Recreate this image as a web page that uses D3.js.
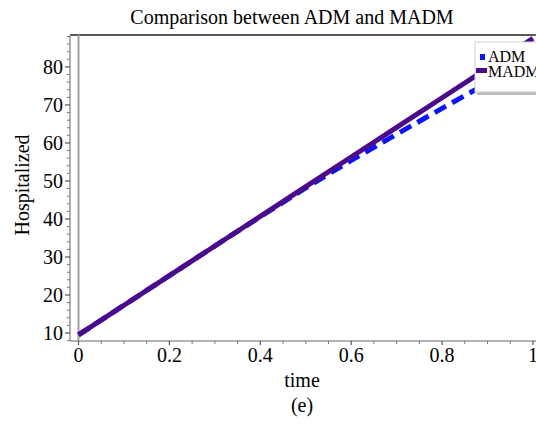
<!DOCTYPE html>
<html>
<head>
<meta charset="utf-8">
<script src="https://cdn.jsdelivr.net/npm/d3@7"></script>
<style>
  html, body { margin: 0; padding: 0; background: #fff; }
  svg { display: block; font-family: "Liberation Serif", "Times New Roman", serif; }
</style>
</head>
<body>
<svg id="chart" width="536" height="428"></svg>
<script>
// Hospitalized compartment: ADM vs MADM approximations over time
const times = [0, 0.1, 0.2, 0.3, 0.4, 0.5, 0.6, 0.7, 0.8, 0.9, 1.0];
const madmValues = [9.5, 17.3, 25.1, 32.9, 40.7, 48.5, 56.3, 64.1, 71.9, 79.7, 87.5];
const admValues  = [9.5, 17.3, 25.1, 32.9, 40.6, 48.2, 55.4, 62.3, 69.1, 75.8, 82.4];
const xTicks = [0, 0.2, 0.4, 0.6, 0.8, 1];
const xTickLabels = ["0", "0.2", "0.4", "0.6", "0.8", "1"];
const yTicks = [10, 20, 30, 40, 50, 60, 70, 80];

const svg = d3.select("#chart");

const plotLeft = 70, plotRight = 536, plotTop = 35, plotBottom = 341;
const x = d3.scaleLinear().domain([0, 1]).range([78.5, 533]);
const y = d3.scaleLinear().domain([7.9, 88.4]).range([plotBottom, plotTop]);

svg.append("defs").append("clipPath").attr("id", "plotClip")
  .append("rect").attr("x", plotLeft).attr("y", plotTop)
  .attr("width", plotRight - plotLeft).attr("height", plotBottom - plotTop);

// Title
svg.append("text")
  .attr("x", 292).attr("y", 24)
  .attr("text-anchor", "middle")
  .attr("font-size", 20)
  .text("Comparison between ADM and MADM");

// Top frame
svg.append("line")
  .attr("x1", plotLeft).attr("x2", plotRight).attr("y1", plotTop).attr("y2", plotTop)
  .attr("stroke", "#222").attr("stroke-width", 1.5);

// Vertical line at t = 0
svg.append("line")
  .attr("x1", x(0)).attr("x2", x(0)).attr("y1", plotTop).attr("y2", plotBottom)
  .attr("stroke", "#a0a0a0").attr("stroke-width", 2);

// Y axis
const yMinor = d3.range(8, 89, 2).filter(v => v % 10 !== 0);
const yAxisG = svg.append("g").attr("transform", `translate(${plotLeft},0)`);
yAxisG.append("line").attr("x1", 0).attr("x2", 0).attr("y1", plotTop).attr("y2", plotBottom)
  .attr("stroke", "#999").attr("stroke-width", 1.5);
yAxisG.selectAll(".minor").data(yMinor).join("line")
  .attr("x1", -3).attr("x2", 0).attr("y1", d => y(d)).attr("y2", d => y(d))
  .attr("stroke", "#777").attr("stroke-width", 1);
yAxisG.selectAll(".major").data(yTicks).join("line")
  .attr("x1", -5).attr("x2", 0).attr("y1", d => y(d)).attr("y2", d => y(d))
  .attr("stroke", "#555").attr("stroke-width", 1.2);
yAxisG.selectAll("text").data(yTicks).join("text")
  .attr("x", -7).attr("y", d => y(d)).attr("dy", "0.35em")
  .attr("text-anchor", "end").attr("font-size", 20)
  .text(d => d);

// X axis
const xMinor = d3.range(0, 1.001, 0.05).filter(v => Math.abs(v * 5 - Math.round(v * 5)) > 1e-6);
const xAxisG = svg.append("g").attr("transform", `translate(0,${plotBottom})`);
xAxisG.append("line").attr("x1", plotLeft).attr("x2", plotRight).attr("y1", 0).attr("y2", 0)
  .attr("stroke", "#999").attr("stroke-width", 1.5);
xAxisG.selectAll(".minor").data(xMinor).join("line")
  .attr("x1", d => x(d)).attr("x2", d => x(d)).attr("y1", 0).attr("y2", 3)
  .attr("stroke", "#777").attr("stroke-width", 1);
xAxisG.selectAll(".major").data(xTicks).join("line")
  .attr("x1", d => x(d)).attr("x2", d => x(d)).attr("y1", 0).attr("y2", 4)
  .attr("stroke", "#555").attr("stroke-width", 1.2);
xAxisG.selectAll("text").data(xTicks).join("text")
  .attr("x", d => x(d)).attr("y", 21)
  .attr("text-anchor", "middle").attr("font-size", 20)
  .text((d, i) => xTickLabels[i]);

// Axis titles
svg.append("text")
  .attr("x", 302).attr("y", 387)
  .attr("text-anchor", "middle").attr("font-size", 20)
  .text("time");
svg.append("text")
  .attr("transform", `translate(29,185) rotate(-90)`)
  .attr("text-anchor", "middle").attr("font-size", 20)
  .text("Hospitalized");
svg.append("text")
  .attr("x", 302).attr("y", 412)
  .attr("text-anchor", "middle").attr("font-size", 20)
  .text("(e)");

// Series
const line = d3.line().x((d, i) => x(times[i])).y(d => y(d));
const plot = svg.append("g").attr("clip-path", "url(#plotClip)");
plot.append("path").datum(admValues)
  .attr("d", line).attr("fill", "none")
  .attr("stroke", "#0a14ff").attr("stroke-width", 5)
  .attr("stroke-dasharray", "13,7");
plot.append("path").datum(madmValues)
  .attr("d", line).attr("fill", "none")
  .attr("stroke", "#4b0a8c").attr("stroke-width", 5);

// Legend
const lg = svg.append("g");
lg.append("rect").attr("x", 477).attr("y", 91).attr("width", 70).attr("height", 4)
  .attr("fill", "#bdbdbd");
lg.append("rect").attr("x", 475).attr("y", 42).attr("width", 70).attr("height", 50)
  .attr("fill", "#fff").attr("stroke", "#d0d0d0").attr("stroke-width", 1);
lg.append("rect").attr("x", 480).attr("y", 54).attr("width", 5).attr("height", 6)
  .attr("fill", "#0a14ff");
lg.append("rect").attr("x", 476).attr("y", 68).attr("width", 11).attr("height", 5)
  .attr("fill", "#4b0a8c");
lg.append("text").attr("x", 488).attr("y", 62).attr("font-size", 16).text("ADM");
lg.append("text").attr("x", 488).attr("y", 77).attr("font-size", 16).text("MADM");
</script>
</body>
</html>
